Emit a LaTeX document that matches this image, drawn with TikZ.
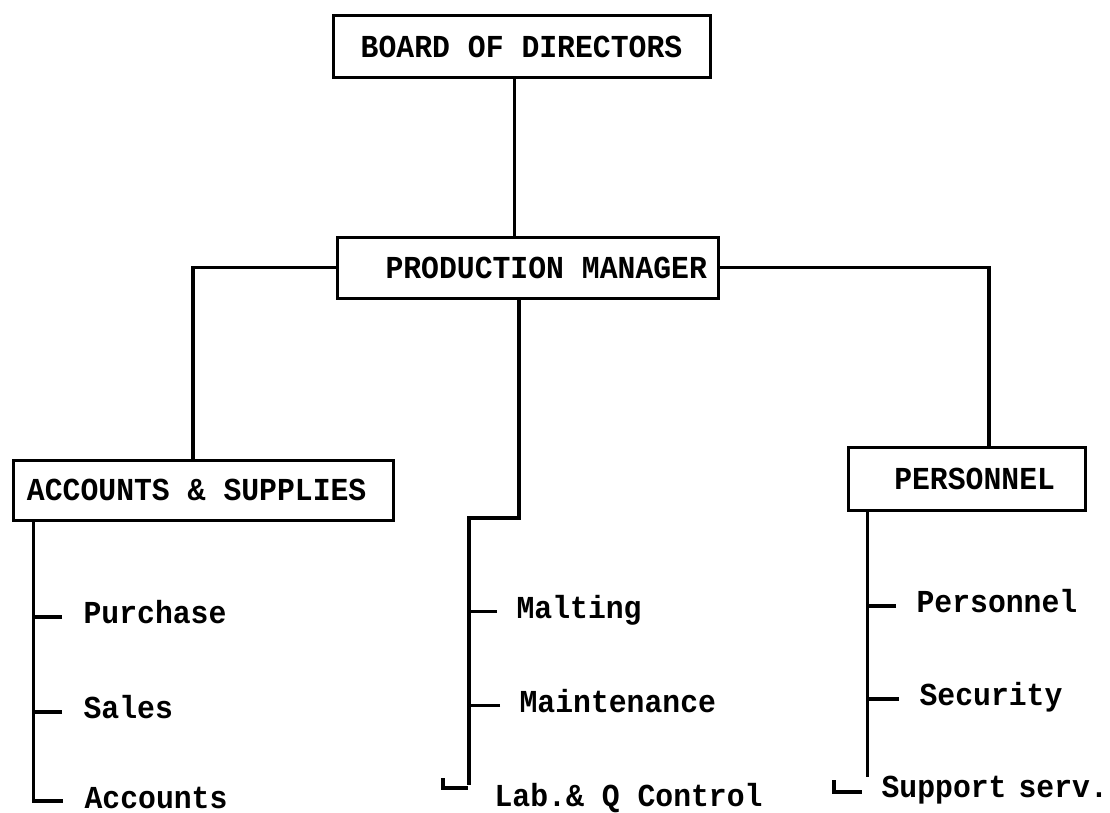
\documentclass[tikz,border=0pt]{standalone}
\usepackage{fontspec}
\setmainfont[FakeStretch=0.93]{Liberation Mono}
\usetikzlibrary{positioning}

\newcommand{\wsp}{\hspace{17.9pt}}
\tikzset{
  orgbox/.style={draw, line width=3pt, inner ysep=0pt, minimum height=62pt},
  unit/.style={anchor=base west, inner sep=0pt},
}

\begin{document}
\begin{tikzpicture}[x=1pt, y=-1pt, line width=3.2pt,
    font=\fontsize{32}{34}\selectfont\bfseries]
    \useasboundingbox (0,0) rectangle (1110,813);

    % boxes
    \node[orgbox, minimum width=377pt] (bod) at (521.5,47) {BOARD\wsp OF\wsp DIRECTORS};
    \node[orgbox, minimum height=61pt, inner xsep=11pt, text width=359pt, align=right]
        (pm) at (527.5,267.5) {PRODUCTION\wsp MANAGER};
    \node[orgbox, minimum height=60pt, inner xsep=14pt, text width=352pt, align=left]
        (acc) at (203,490) {ACCOUNTS\wsp\&\wsp SUPPLIES};
    \node[orgbox, minimum height=63pt, inner xsep=30pt, text width=177pt, align=right]
        (per) at (966.5,478.5) {PERSONNEL};

    % sections
    \node[unit] (purchase) at (82,623) {Purchase};
    \node[unit] (sales) at (82,718) {Sales};
    \node[unit] (accounts) at (83,808) {Accounts};
    \node[unit] (malting) at (515,618) {Malting};
    \node[unit] (maint) at (518,712) {Maintenance};
    \node[unit] (lab) at (493,806) {Lab.\&\wsp Q\wsp Control};
    \node[unit] (staff) at (915,612) {Personnel};
    \node[unit] (security) at (918,705) {Security};
    \node[unit] (support) at (880,797) {Support\hspace{12pt}serv.};

    % main lines
    \draw ([xshift=-7pt]bod.south) -- ([xshift=-7pt]bod.south |- pm.north);
    \draw (pm.west) -| ([xshift=-10pt]acc.north);
    \draw (pm.east) -| ([xshift=22.5pt]per.north);
    \coordinate (mbend) at (469,518);
    \coordinate (mfoot) at (469,785);
    \draw ([xshift=-8.5pt]pm.south) |- (mbend) -- (mfoot);

    % left column
    \coordinate (ltop) at ([xshift=22pt]acc.south west);
    \draw (ltop) |- ([xshift=-20pt,yshift=7pt]accounts.base west);
    \foreach \n in {purchase,sales} {
        \coordinate (t) at ([xshift=-20pt,yshift=6pt]\n.base west);
        \draw (t) -- (t -| ltop);
    }

    % middle column
    \foreach \n in {malting,maint} {
        \coordinate (t) at ([xshift=-18pt,yshift=6.5pt]\n.base west);
        \draw (t) -- (t -| mfoot);
    }
    \draw ([xshift=-50pt,yshift=28pt]lab.base west) |- ([xshift=-25pt,yshift=18pt]lab.base west);

    % right column
    \coordinate (rtop) at ([xshift=21pt]per.south west);
    \coordinate (rfoot) at (rtop |- 0,777);
    \draw (rtop) -- (rfoot);
    \foreach \n in {staff,security} {
        \coordinate (t) at ([xshift=-19pt,yshift=6pt]\n.base west);
        \draw (t) -- (t -| rtop);
    }
    \draw ([xshift=-46pt,yshift=17pt]support.base west) |- ([xshift=-18pt,yshift=5pt]support.base west);
\end{tikzpicture}
\end{document}
